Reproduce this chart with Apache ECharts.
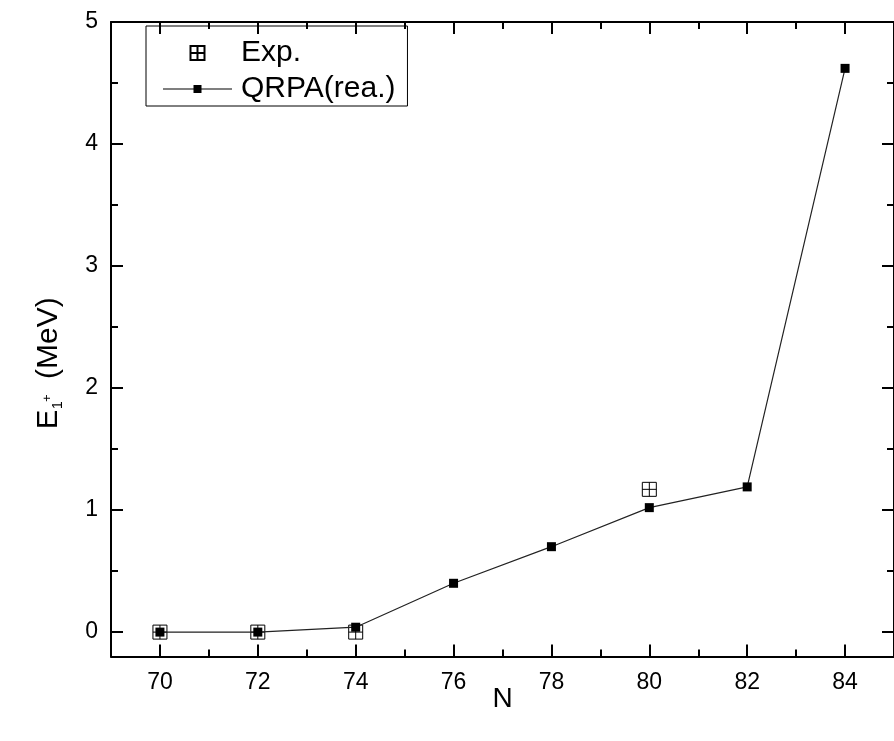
<!DOCTYPE html>
<html>
<head>
    <meta charset="UTF-8">
    <title>E1+ vs N</title>
    <script type="text/javascript" src="https://cdn.jsdelivr.net/npm/echarts@6/dist/echarts.min.js"></script>
    <style>
        body { margin: 0; background: #fff; }
    </style>
</head>
<body>
<div id="main" style="width:894px;height:741px"></div>
<script type="text/javascript">
    // data
    var expN = [70, 72, 74, 80];
    var expE = [0, 0, 0, 1.17];
    var qrpaN = [70, 72, 74, 76, 78, 80, 82, 84];
    var qrpaE = [0, 0, 0.04, 0.40, 0.70, 1.02, 1.19, 4.62];

    var xMajor = [70, 72, 74, 76, 78, 80, 82, 84];
    var xMinor = [71, 73, 75, 77, 79, 81, 83];
    var yMajor = [0, 1, 2, 3, 4, 5];
    var yMinor = [0.5, 1.5, 2.5, 3.5, 4.5];

    var font = 'Liberation Sans';
    var expSymbol = 'path://M0,0L10,0L10,10L0,10Z M5,0L5,10 M0,5L10,5';

    function zip(a, b) {
        var out = [];
        for (var i = 0; i < a.length; i++) out.push([a[i], b[i]]);
        return out;
    }

    // one axis per tick size, so major and minor ticks can differ in length
    function xAx(pos, ticks, len, line) {
        return {
            type: 'value', min: 69, max: 85, position: pos,
            axisLine: {show: line, onZero: false, lineStyle: {color: '#000', width: 2}},
            axisTick: {inside: true, length: len, customValues: ticks, lineStyle: {color: '#000', width: 2}},
            axisLabel: {show: false},
            splitLine: {show: false}
        };
    }
    function yAx(pos, ticks, len, line) {
        return {
            type: 'value', min: -0.2, max: 5, position: pos,
            axisLine: {show: line, onZero: false, lineStyle: {color: '#000', width: 2}},
            axisTick: {inside: true, length: len, customValues: ticks, lineStyle: {color: '#000', width: 2}},
            axisLabel: {show: false},
            splitLine: {show: false}
        };
    }

    var xAxes = [xAx('bottom', xMajor, 12, true), xAx('bottom', xMinor, 7, false),
        xAx('top', xMajor, 12, true), xAx('top', xMinor, 7, false)];
    xAxes[0].axisLabel = {customValues: xMajor, color: '#000', fontSize: 23, fontFamily: font, margin: 15};
    xAxes[0].name = 'N';
    xAxes[0].nameLocation = 'middle';
    xAxes[0].nameGap = 29;
    xAxes[0].nameMoveOverlap = false;
    xAxes[0].nameTextStyle = {color: '#000', fontSize: 28, fontFamily: font};

    var yAxes = [yAx('left', yMajor, 12, true), yAx('left', yMinor, 7, false),
        yAx('right', yMajor, 12, true), yAx('right', yMinor, 7, false)];
    yAxes[0].axisLabel = {customValues: yMajor, color: '#000', fontSize: 23, fontFamily: font, margin: 13};

    var myChart = echarts.init(document.getElementById('main'));
    myChart.setOption({
        animation: false,
        backgroundColor: '#fff',
        grid: {left: 111, top: 22, width: 787, height: 634.5},
        xAxis: xAxes,
        yAxis: yAxes,
        legend: {
            left: 146, top: 26,
            orient: 'vertical',
            borderColor: '#000', borderWidth: 1,
            padding: [12, 12, 2, 17],
            itemWidth: 69, itemHeight: 14, itemGap: 6,
            textStyle: {color: '#000', fontSize: 30, fontFamily: font, lineHeight: 30, padding: [0, 0, 0, 4]},
            data: [
                {name: 'Exp.'},
                {name: 'QRPA(rea.)', icon: 'path://M0,6.5L69,6.5L69,7.5L0,7.5Z M30.5,3L38.5,3L38.5,11L30.5,11Z', itemStyle: {color: '#000'}}
            ]
        },
        graphic: [{
            type: 'group', x: 49, y: 429, rotation: Math.PI / 2,
            children: [
                {type: 'text', x: 0, y: 0, style: {text: 'E', fontSize: 29, fontFamily: font, fill: '#000', verticalAlign: 'middle'}},
                {type: 'text', x: 20, y: 9, style: {text: '1', fontSize: 14, fontFamily: font, fill: '#000', verticalAlign: 'middle'}},
                {type: 'text', x: 27, y: -2, style: {text: '+', fontSize: 13, fontFamily: font, fill: '#000', verticalAlign: 'middle'}},
                {type: 'text', x: 50, y: 0, style: {text: '(MeV)', fontSize: 30, fontFamily: font, fill: '#000', verticalAlign: 'middle'}}
            ]
        }],
        series: [{
            name: 'Exp.',
            type: 'scatter',
            data: zip(expN, expE),
            symbol: expSymbol,
            symbolSize: 14,
            itemStyle: {color: 'rgba(0,0,0,0)', borderColor: '#000', borderWidth: 1, opacity: 1}
        }, {
            name: 'QRPA(rea.)',
            type: 'line',
            data: zip(qrpaN, qrpaE),
            symbol: 'rect',
            symbolSize: 9,
            itemStyle: {color: '#000'},
            lineStyle: {color: '#222', width: 1.2}
        }]
    });
</script>
</body>
</html>
